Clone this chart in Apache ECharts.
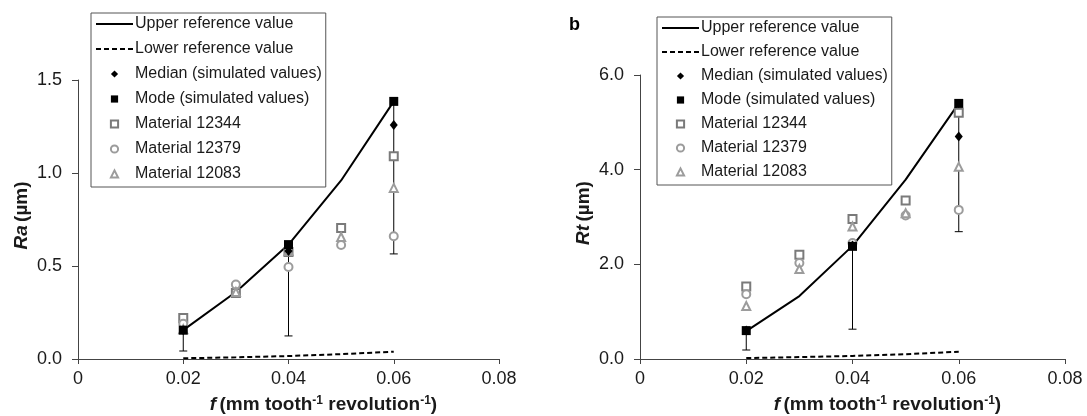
<!DOCTYPE html>
<html>
<head>
<meta charset="utf-8">
<script src="https://cdn.jsdelivr.net/npm/echarts@6/dist/echarts.min.js"></script>
<style>
html,body{margin:0;padding:0;background:#fff;}
#chart{width:1087px;height:416px;}
</style>
</head>
<body>
<div id="chart"></div>
<script>
// ---- data ----
const fValues = [0.02, 0.03, 0.04, 0.05, 0.06];
const fSim = [0.02, 0.04, 0.06];
const xTicks = [0, 0.02, 0.04, 0.06, 0.08];

// Ra (left)
const raUpper = [0.155, 0.36, 0.615, 0.96, 1.385];
const raLower = [0.004, 0.009, 0.016, 0.026, 0.039];
const raMedian = [0.155, 0.58, 1.258];
const raMode = [0.155, 0.615, 1.385];
const raErrLow = [0.043, 0.124, 0.565];
const ra12344 = [0.22, 0.355, 0.575, 0.704, 1.09];
const ra12379 = [0.19, 0.40, 0.495, 0.613, 0.66];
const ra12083 = [0.16, 0.36, 0.58, 0.656, 0.92];

// Rt (right)
const rtUpper = [0.59, 1.33, 2.39, 3.79, 5.40];
const rtLower = [0.02, 0.04, 0.065, 0.10, 0.155];
const rtMedian = [0.6, 2.40, 4.70];
const rtMode = [0.6, 2.38, 5.40];
const rtErrLow = [0.19, 0.63, 2.69];
const rt12344 = [1.53, 2.20, 2.96, 3.35, 5.20];
const rt12379 = [1.37, 2.03, 2.45, 3.03, 3.15];
const rt12083 = [1.12, 1.90, 2.80, 3.08, 4.06];

const names = ['Upper reference value', 'Lower reference value', 'Median (simulated values)',
  'Mode (simulated values)', 'Material 12344', 'Material 12379', 'Material 12083'];

// ---- helpers ----
const FONT = '"Liberation Sans", Arial, sans-serif';
const TXT = '#1a1a1a';
function pairs(xs, ys) { return xs.map((x, i) => [x, ys[i]]); }
function errData(xs, lo, hi) { return xs.map((x, i) => [x, lo[i], hi[i]]); }

function renderErr(params, api) {
  const x = api.value(0), lo = api.value(1), hi = api.value(2);
  const pHi = api.coord([x, hi]);
  const pLo = api.coord([x, lo]);
  const st = { stroke: '#000', lineWidth: 1 };
  return {
    type: 'group', children: [
      { type: 'line', shape: { x1: pHi[0], y1: pHi[1], x2: pLo[0], y2: pLo[1] }, style: st },
      { type: 'line', shape: { x1: pLo[0] - 4, y1: pLo[1], x2: pLo[0] + 4, y2: pLo[1] }, style: st }
    ]
  };
}

function seriesFor(idx, up, low, med, mode, errLo, m1, m2, m3) {
  const base = { xAxisIndex: idx, yAxisIndex: idx, type: 'line', animation: false };
  const noLine = { opacity: 0, width: 0 };
  return [
    Object.assign({}, base, { name: names[0], data: pairs(fValues, up), symbol: 'none',
      itemStyle: { color: '#000', opacity: 0 },
      lineStyle: { color: '#000', width: 2 }, z: 3 }),
    Object.assign({}, base, { name: names[1], data: pairs(fValues, low), symbol: 'none',
      itemStyle: { color: '#000', opacity: 0 },
      lineStyle: { color: '#000', width: 2, type: [5, 3] }, z: 3 }),
    { type: 'custom', name: 'err' + idx, xAxisIndex: idx, yAxisIndex: idx, renderItem: renderErr,
      data: errData(fSim, errLo, mode), encode: { x: 0, y: [1, 2] }, z: 4, animation: false },
    Object.assign({}, base, { name: names[4], data: pairs(fValues, m1), symbol: 'emptyRect', symbolSize: 8,
      itemStyle: { color: '#7a7a7a', borderWidth: 1 }, lineStyle: noLine, z: 5 }),
    Object.assign({}, base, { name: names[5], data: pairs(fValues, m2), symbol: 'emptyCircle', symbolSize: 8,
      itemStyle: { color: '#9c9c9c', borderWidth: 1 }, lineStyle: noLine, z: 5 }),
    Object.assign({}, base, { name: names[6], data: pairs(fValues, m3), symbol: 'emptyTriangle', symbolSize: 8,
      itemStyle: { color: '#9c9c9c', borderWidth: 1 }, lineStyle: noLine, z: 5 }),
    Object.assign({}, base, { name: names[2], data: pairs(fSim, med), symbol: 'diamond', symbolSize: [8, 10],
      itemStyle: { color: '#000' }, lineStyle: noLine, z: 6 }),
    Object.assign({}, base, { name: names[3], data: pairs(fSim, mode), symbol: 'rect', symbolSize: 9,
      itemStyle: { color: '#000' }, lineStyle: noLine, z: 7 })
  ];
}

function xAxisFor(idx) {
  return {
    type: 'value', gridIndex: idx, min: xTicks[0], max: xTicks[xTicks.length - 1], interval: 0.02,
    splitLine: { show: false },
    axisLine: { lineStyle: { color: '#444', width: 1 } },
    axisTick: { show: true, length: 5, lineStyle: { color: '#444' } },
    axisLabel: { color: TXT, fontSize: 18, fontFamily: FONT, margin: 11,
      formatter: v => (v === 0 ? '0' : v.toFixed(2)) },
    name: '{i|f} {b|(mm tooth}{s|-1}{b| revolution}{s|-1}{b|)}',
    nameLocation: 'middle', nameGap: 36,
    nameTextStyle: {
      fontFamily: FONT, color: TXT, padding: [0, 0, 0, 70],
      rich: {
        i: { fontStyle: 'italic', fontWeight: 'bold', fontSize: 19, fontFamily: FONT, color: TXT },
        b: { fontWeight: 'bold', fontSize: 19, fontFamily: FONT, color: TXT },
        s: { fontWeight: 'bold', fontSize: 12, fontFamily: FONT, color: TXT, verticalAlign: 'top', padding: [0, 0, 7, 0] }
      }
    }
  };
}

function yAxisFor(idx, max, interval, ital) {
  return {
    type: 'value', gridIndex: idx, min: 0, max: max, interval: interval,
    splitLine: { show: false },
    axisLine: { show: true, lineStyle: { color: '#444', width: 1 } },
    axisTick: { show: true, length: 6, lineStyle: { color: '#444' } },
    axisLabel: { color: TXT, fontSize: 18, fontFamily: FONT, margin: 16,
      formatter: v => v.toFixed(1) },
    name: '{i|' + ital + '} {b|(µm)}',
    nameLocation: 'middle', nameGap: 47,
    nameTextStyle: {
      fontFamily: FONT, color: TXT, padding: [0, 0, 0, 8],
      rich: {
        i: { fontStyle: 'italic', fontWeight: 'bold', fontSize: 19, fontFamily: FONT, color: TXT },
        b: { fontWeight: 'bold', fontSize: 19, fontFamily: FONT, color: TXT }
      }
    }
  };
}

function legendFor(left, top, gap) {
  return {
    data: names, orient: 'vertical', left: left, top: top,
    itemWidth: 37, itemHeight: 9, itemGap: gap,
    padding: [3, 4, 5, 4],
    borderColor: '#555', borderWidth: 1,
    selectedMode: false,
    textStyle: { fontSize: 16, fontFamily: FONT, color: TXT, padding: [0, 0, 0, -3] }
  };
}

const chart = echarts.init(document.getElementById('chart'), null, { renderer: 'canvas' });
chart.setOption({
  backgroundColor: '#fff',
  animation: false,
  title: { text: 'b', left: 564, top: 11, textStyle: { fontSize: 18, fontWeight: 'bold', fontFamily: FONT, color: '#000' } },
  grid: [
    { left: 78, right: 588, top: 80, bottom: 57, containLabel: false, outerBoundsMode: 'none' },
    { left: 640, right: 22, top: 75, bottom: 57, containLabel: false, outerBoundsMode: 'none' }
  ],
  xAxis: [xAxisFor(0), xAxisFor(1)],
  yAxis: [yAxisFor(0, 1.5, 0.5, 'Ra'), yAxisFor(1, 6, 2, 'Rt')],
  legend: [legendFor(91, 13, 9), legendFor(657, 17, 8)],
  series: seriesFor(0, raUpper, raLower, raMedian, raMode, raErrLow, ra12344, ra12379, ra12083)
    .concat(seriesFor(1, rtUpper, rtLower, rtMedian, rtMode, rtErrLow, rt12344, rt12379, rt12083))
});
</script>
</body>
</html>
